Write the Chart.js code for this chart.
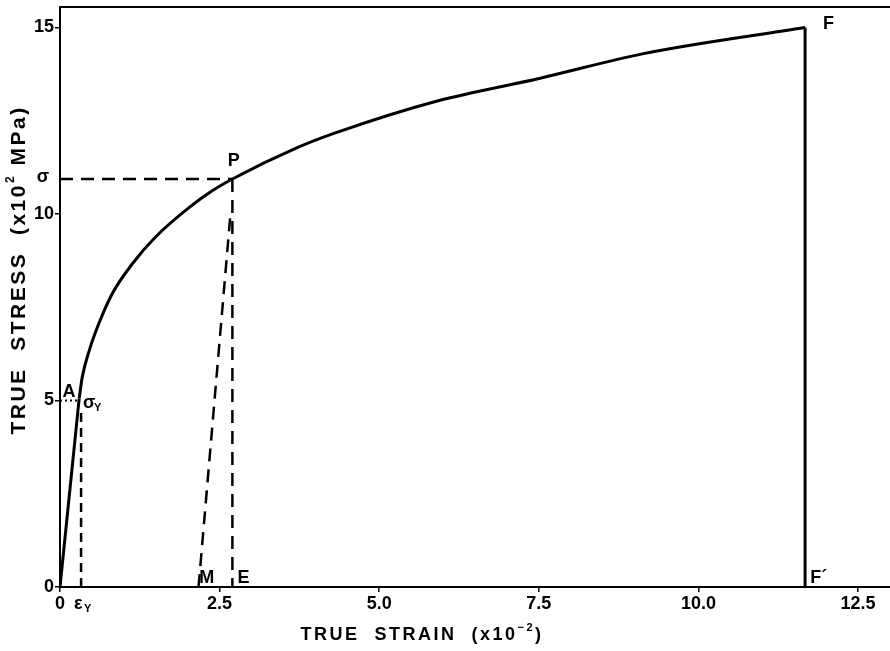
<!DOCTYPE html>
<html>
<head>
<meta charset="utf-8">
<script src="https://cdn.jsdelivr.net/npm/chart.js@4"></script>
<style>
  html, body { margin: 0; padding: 0; background: #fff; }
  #wrap { width: 890px; height: 651px; }
</style>
</head>
<body>
<div id="wrap"><canvas id="chart" width="890" height="651"></canvas></div>
<script>
// true strain (x10^-2) and true stress (x10^2 MPa)
const elasticStrain = [0, 0.30];
const elasticStress = [0, 5.05];

const curveStrain = [0.30, 0.35, 0.46, 0.61, 0.82, 1.14, 1.50, 2.02, 2.39, 2.70, 3.69, 4.29, 5.91, 7.52, 9.14, 11.67];
const curveStress = [5.05, 5.64, 6.35, 7.07, 7.87, 8.68, 9.39, 10.17, 10.63, 10.94, 11.76, 12.16, 13.03, 13.64, 14.30, 15.00];

const fractureStrain = [11.67, 11.67];
const fractureStress = [15.00, 0];

// construction lines
const sigmaYStrain = [0, 0.30];
const sigmaYStress = [5.0, 5.0];
const epsYStrain = [0.33, 0.33];
const epsYStress = [0, 4.7];
const sigmaStrain = [0, 2.70];
const sigmaStress = [10.94, 10.94];
const peStrain = [2.70, 2.70];
const peStress = [10.94, 0];
const mpStrain = [2.17, 2.67];
const mpStress = [0, 10.0];

const xTicks = [0, 2.5, 5.0, 7.5, 10.0, 12.5];
const yTicks = [0, 5, 10, 15];

const FONT = '"Liberation Sans", Arial, Helvetica, sans-serif';

function pts(xs, ys) {
  return xs.map((x, i) => ({ x: x, y: ys[i] }));
}

function lineSet(xs, ys, width, dash, extra) {
  return Object.assign({
    data: pts(xs, ys),
    showLine: true,
    borderColor: '#000',
    borderWidth: width,
    borderDash: dash || [],
    pointRadius: 0,
    fill: false
  }, extra || {});
}

// draws a row of text pieces (with optional superscript) centred on (cx, cy)
function drawPieces(ctx, pieces, cx, cy, spacing) {
  ctx.save();
  ctx.letterSpacing = spacing + 'px';
  let total = 0;
  pieces.forEach(p => {
    ctx.font = 'bold ' + p.size + 'px ' + FONT;
    p.w = ctx.measureText(p.t).width;
    total += p.w;
  });
  let x = cx - total / 2;
  ctx.textBaseline = 'middle';
  ctx.textAlign = 'left';
  pieces.forEach(p => {
    ctx.font = 'bold ' + p.size + 'px ' + FONT;
    ctx.fillText(p.t, x, cy + (p.dy || 0));
    x += p.w;
  });
  ctx.restore();
}

const notes = {
  id: 'notes',
  afterDraw(chart) {
    const ctx = chart.ctx;
    const xs = chart.scales.x, ys = chart.scales.y;
    const area = chart.chartArea;
    ctx.save();
    // top frame line
    ctx.strokeStyle = '#000';
    ctx.lineWidth = 2;
    ctx.beginPath();
    ctx.moveTo(area.left, area.top);
    ctx.lineTo(area.right, area.top);
    ctx.stroke();

    ctx.fillStyle = '#000';
    ctx.textBaseline = 'alphabetic';
    ctx.font = 'bold 18px ' + FONT;
    ctx.textAlign = 'left';
    ctx.fillText('F', xs.getPixelForValue(11.95), ys.getPixelForValue(14.95));
    ctx.fillText('F\u00B4', xs.getPixelForValue(11.75), ys.getPixelForValue(0.12));
    ctx.fillText('M', xs.getPixelForValue(2.18), ys.getPixelForValue(0.12));
    ctx.fillText('E', xs.getPixelForValue(2.78), ys.getPixelForValue(0.12));
    ctx.textAlign = 'center';
    ctx.fillText('P', xs.getPixelForValue(2.72), ys.getPixelForValue(11.3));
    ctx.fillText('A', xs.getPixelForValue(0.14), ys.getPixelForValue(5.1));

    // sigma_Y
    ctx.textAlign = 'left';
    ctx.font = 'bold 18px ' + FONT;
    let sx = xs.getPixelForValue(0.36), sy = ys.getPixelForValue(4.8);
    ctx.fillText('\u03C3', sx, sy);
    ctx.font = 'bold 11px ' + FONT;
    ctx.fillText('Y', sx + 11, sy + 3);

    // epsilon_Y under the axis
    ctx.font = 'bold 18px ' + FONT;
    let ex = xs.getPixelForValue(0.22), ey = area.bottom + 22;
    ctx.fillText('\u03B5', ex, ey);
    ctx.font = 'bold 11px ' + FONT;
    ctx.fillText('Y', ex + 10, ey + 3);

    // sigma at left of axis
    ctx.font = 'bold 18px ' + FONT;
    ctx.textAlign = 'center';
    ctx.textBaseline = 'middle';
    ctx.fillText('\u03C3', area.left - 17, ys.getPixelForValue(10.94) - 2);

    // axis titles
    ctx.fillStyle = '#000';
    drawPieces(ctx, [
      { t: 'TRUE  STRAIN  (x10', size: 18 },
      { t: '\u22122', size: 11, dy: -7 },
      { t: ')', size: 18 }
    ], xs.getPixelForValue(5.67), area.bottom + 48, 2.5);

    ctx.save();
    ctx.translate(19, ys.getPixelForValue(8.5));
    ctx.rotate(-Math.PI / 2);
    drawPieces(ctx, [
      { t: 'TRUE  STRESS  (x10', size: 21 },
      { t: '2', size: 12, dy: -8 },
      { t: ' MPa)', size: 21 }
    ], 0, 0, 2.5);
    ctx.restore();
    ctx.restore();
  }
};

new Chart(document.getElementById('chart'), {
  type: 'scatter',
  data: {
    datasets: [
      lineSet(elasticStrain, elasticStress, 3),
      lineSet(curveStrain, curveStress, 3, null, { cubicInterpolationMode: 'monotone' }),
      lineSet(fractureStrain, fractureStress, 3),
      lineSet(sigmaYStrain, sigmaYStress, 2, [2, 3]),
      lineSet(epsYStrain, epsYStress, 2.5, [9, 6]),
      lineSet(sigmaStrain, sigmaStress, 2.5, [13, 8]),
      lineSet(peStrain, peStress, 2.5, [13, 8]),
      lineSet(mpStrain, mpStress, 2.5, [13, 8])
    ]
  },
  options: {
    responsive: false,
    animation: false,
    layout: { padding: { top: 7, left: 0, right: 0, bottom: 0 } },
    plugins: { legend: { display: false }, tooltip: { enabled: false } },
    scales: {
      x: {
        type: 'linear',
        min: 0,
        max: 13.0,
        afterFit(scale) { scale.height = 64; },
        afterBuildTicks(scale) { scale.ticks = xTicks.map(v => ({ value: v })); },
        border: { display: true, color: '#000', width: 2 },
        grid: { display: true, drawOnChartArea: false, drawTicks: true, tickLength: 5, color: '#000', lineWidth: 1.5 },
        ticks: {
          color: '#000',
          padding: 1,
          maxRotation: 0,
          font: { family: FONT, size: 18, weight: 'bold' },
          callback: v => (v === 0 ? '0' : v.toFixed(1))
        }
      },
      y: {
        type: 'linear',
        min: 0,
        max: 15.55,
        afterFit(scale) { scale.width = 60; scale.paddingTop = 0; scale.paddingBottom = 0; },
        afterBuildTicks(scale) { scale.ticks = yTicks.map(v => ({ value: v })); },
        border: { display: true, color: '#000', width: 2 },
        grid: { display: true, drawOnChartArea: false, drawTicks: true, tickLength: 5, color: '#000', lineWidth: 1.5 },
        ticks: {
          color: '#000',
          padding: 1,
          font: { family: FONT, size: 18, weight: 'bold' },
          callback: v => String(v)
        }
      }
    }
  },
  plugins: [notes]
});
</script>
</body>
</html>
